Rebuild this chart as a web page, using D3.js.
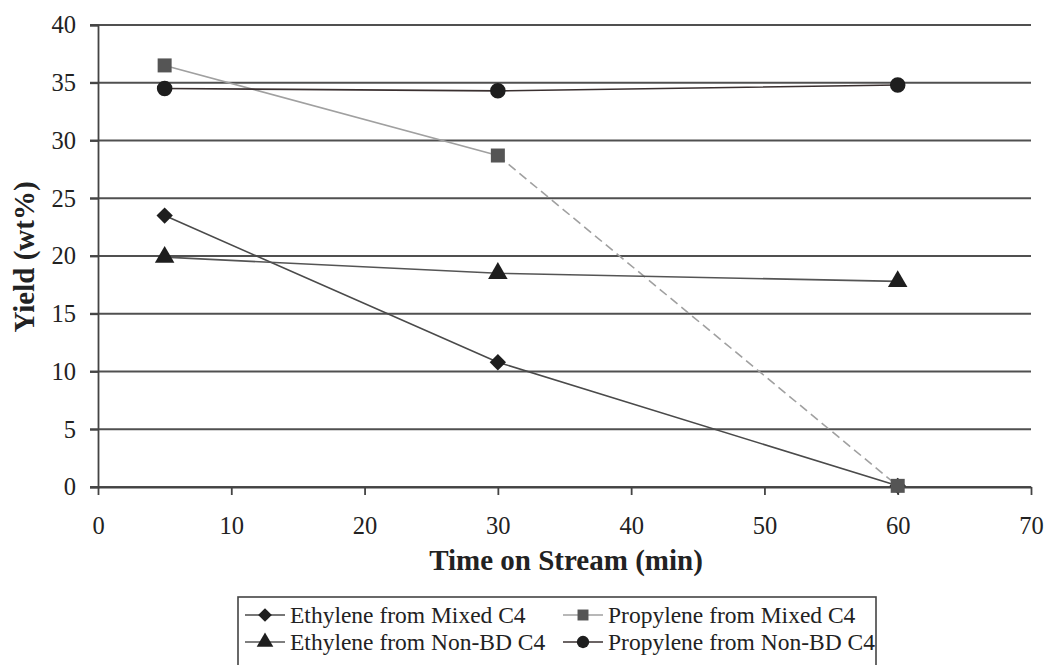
<!DOCTYPE html>
<html><head><meta charset="utf-8">
<script src="https://cdn.jsdelivr.net/npm/d3@7"></script>
<style>
html,body{margin:0;padding:0;background:#fff;}
svg{display:block;}
text{font-family:"Liberation Serif","Times New Roman",serif;fill:#222;}
</style></head>
<body>
<svg id="chart" width="1046" height="665"></svg>
<script>
// ---- data ----
const times = [5, 30, 60];
const ethyleneMixed = [23.5, 10.8, 0.1];
const propyleneMixed = [36.5, 28.7, 0.1];
const ethyleneNonBD = [19.9, 18.5, 17.8];
const propyleneNonBD = [34.5, 34.3, 34.8];
const seriesNames = ["Ethylene from Mixed C4", "Propylene from Mixed C4", "Ethylene from Non-BD C4", "Propylene from Non-BD C4"];
const xTicks = [0, 10, 20, 30, 40, 50, 60, 70];
const yTicks = [0, 5, 10, 15, 20, 25, 30, 35, 40];

const FONT = "Liberation Serif, Times New Roman, serif";
const svg = d3.select("#chart");
const x = d3.scaleLinear().domain([0, 70]).range([98, 1031]);
const y = d3.scaleLinear().domain([0, 40]).range([487, 25]);

// gridlines
svg.append("g").selectAll("line").data(yTicks).join("line")
  .attr("x1", x(0) - 8).attr("x2", x(70))
  .attr("y1", d => y(d)).attr("y2", d => y(d))
  .attr("stroke", "#505050").attr("stroke-width", 1.8);

// y axis
const yAxis = svg.append("g").attr("transform", `translate(${x(0)},0)`)
  .call(d3.axisLeft(y).tickValues(yTicks).tickSize(8).tickPadding(14));
yAxis.attr("font-family", FONT);
yAxis.select(".domain").attr("stroke", "#444").attr("stroke-width", 1.8);
yAxis.selectAll(".tick line").attr("stroke", "#444").attr("stroke-width", 1.8);
yAxis.selectAll("text").attr("font-size", 24.5).attr("font-family", FONT).attr("fill", "#333");

// x axis
const xAxis = svg.append("g").attr("transform", `translate(0,${y(0)})`)
  .call(d3.axisBottom(x).tickValues(xTicks).tickSize(8).tickPadding(22).tickSizeOuter(0));
xAxis.attr("font-family", FONT);
xAxis.select(".domain").attr("stroke", "#444").attr("stroke-width", 1.8);
xAxis.selectAll(".tick line").attr("stroke", "#444").attr("stroke-width", 1.8);
xAxis.selectAll("text").attr("font-size", 24.5).attr("font-family", FONT).attr("fill", "#333");

// axis titles
svg.append("text").attr("x", 566).attr("y", 570).attr("text-anchor", "middle")
  .attr("font-family", FONT).attr("font-size", 29).attr("font-weight", "bold").attr("fill", "#333")
  .text("Time on Stream (min)");
svg.append("text").attr("transform", "translate(34,257) rotate(-90)").attr("text-anchor", "middle")
  .attr("font-family", FONT).attr("font-size", 29).attr("font-weight", "bold").attr("fill", "#333")
  .text("Yield (wt%)");

const line = d3.line().x(d => x(d[0])).y(d => y(d[1]));
function pts(vals){ return times.map((t,i)=>[t, vals[i]]); }

const symTypes = {diamond: d3.symbolDiamond2, square: d3.symbolSquare, triangle: d3.symbolTriangle, circle: d3.symbolCircle};
const symSizes = {diamond: 170, square: 196, triangle: 165, circle: 190};

const series = [
  {vals: ethyleneMixed, stroke: "#4a4a4a", marker: "diamond", fill: "#1e1e1e", dash: null},
  {vals: propyleneMixed, stroke: "#a0a0a0", marker: "square", fill: "#555", dash: "split"},
  {vals: ethyleneNonBD, stroke: "#555", marker: "triangle", fill: "#1e1e1e", dash: null},
  {vals: propyleneNonBD, stroke: "#3a3030", marker: "circle", fill: "#1e1e1e", dash: null}
];

series.forEach(s => {
  const p = pts(s.vals);
  if (s.dash === "split") {
    svg.append("path").attr("d", line(p.slice(0, 2))).attr("fill", "none")
      .attr("stroke", s.stroke).attr("stroke-width", 1.6);
    svg.append("path").attr("d", line(p.slice(1))).attr("fill", "none")
      .attr("stroke", s.stroke).attr("stroke-width", 1.6).attr("stroke-dasharray", "9,5");
  } else {
    svg.append("path").attr("d", line(p)).attr("fill", "none")
      .attr("stroke", s.stroke).attr("stroke-width", 1.6);
  }
});
series.forEach(s => {
  svg.append("g").selectAll("path").data(pts(s.vals)).join("path")
    .attr("d", d3.symbol().type(symTypes[s.marker]).size(symSizes[s.marker])())
    .attr("transform", d => `translate(${x(d[0])},${y(d[1])})`)
    .attr("fill", s.fill);
});

// legend
const lg = svg.append("g");
lg.append("rect").attr("x", 238).attr("y", 597).attr("width", 638).attr("height", 80)
  .attr("fill", "#fff").attr("stroke", "#444").attr("stroke-width", 1.6);
const legPos = [[245, 615], [563, 615], [245, 642], [563, 642]];
series.forEach((s, i) => {
  const [lx, ly] = legPos[i];
  lg.append("line").attr("x1", lx).attr("x2", lx + 40).attr("y1", ly).attr("y2", ly)
    .attr("stroke", s.stroke).attr("stroke-width", 1.6);
  lg.append("path").attr("d", d3.symbol().type(symTypes[s.marker]).size(120)())
    .attr("transform", `translate(${lx + 20},${ly})`).attr("fill", s.fill);
  lg.append("text").attr("x", lx + 45).attr("y", ly).attr("dy", "0.35em")
    .attr("font-family", FONT).attr("font-size", 23.5).attr("fill", "#222").text(seriesNames[i]);
});
</script>
</body></html>
